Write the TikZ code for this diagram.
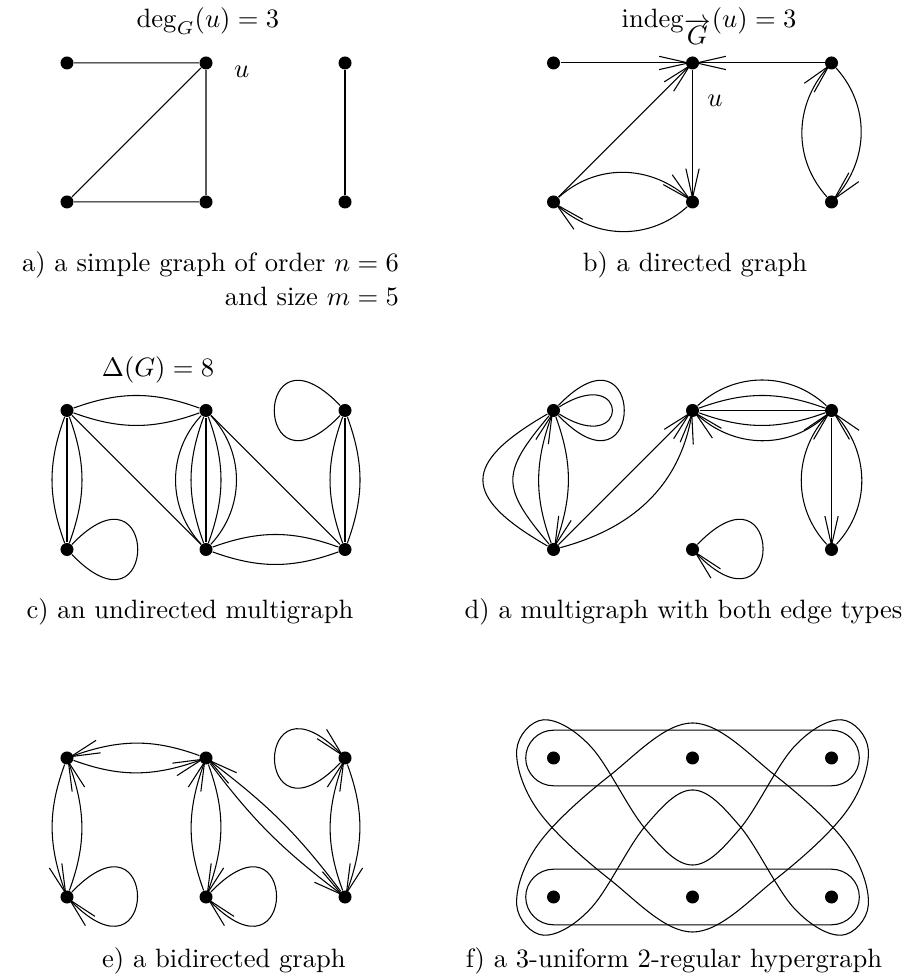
\documentclass[tikz,border=0pt]{standalone}
\usetikzlibrary{arrows.meta}
\tikzset{
  vtx/.style={circle,fill,inner sep=0pt,minimum size=4.9pt},
  head/.style={-{Straight Barb[length=11pt,width=5pt]},shorten >=-2pt},
}
\begin{document}
\begin{tikzpicture}[x=1.84cm,y=1.84cm]
  \useasboundingbox (-0.482,0.453) rectangle (6.065,-6.590);
  % a) simple graph
  \node[vtx] (a1) at (0,0) {};
  \node[vtx] (a2) at (1,0) {};
  \node[vtx] (a3) at (0,-1) {};
  \node[vtx] (a4) at (1,-1) {};
  \node[vtx] (a5) at (2,0) {};
  \node[vtx] (a6) at (2,-1) {};
  \draw (a1) -- (a2) -- (a4) -- (a3) -- (a2);
  \draw (a5) -- (a6);
  \node[anchor=base] (deg) at (1.014,0.252) {$\deg_G(u)=3$};
  \node[anchor=base] (ua) at (1.257,-0.108) {$u$};
  \node[anchor=base west] (capa) at (-0.391,-1.501) {a) a simple graph of order $n=6$};
  \node[anchor=base east] (capaa) at (2.455,-1.748) {and size $m=5$};
  % b) directed graph
  \node[vtx] (b1) at (3.5,0) {};
  \node[vtx] (b2) at (4.5,0) {};
  \node[vtx] (b3) at (5.5,0) {};
  \node[vtx] (b4) at (3.5,-1) {};
  \node[vtx] (b5) at (4.5,-1) {};
  \node[vtx] (b6) at (5.5,-1) {};
  \draw[head] (b1) -- (b2);
  \draw[head] (b4) -- (b2);
  \draw[head] (b3) -- (b2);
  \draw[head] (b2) -- (b5);
  \draw[head] (b4) to[bend left=42] (b5);
  \draw[head] (b5) to[bend left=42] (b4);
  \draw[head] (b6) to[bend left=42] (b3);
  \draw[head] (b3) to[bend left=42] (b6);
  \node[anchor=base] (indeg) at (4.619,0.252) {$\mathrm{indeg}_{\overrightarrow{G}}(u)=3$};
  \node[anchor=base] (ub) at (4.662,-0.314) {$u$};
  \node[anchor=base] (capb) at (4.518,-1.501) {b) a directed graph};
  % c) undirected multigraph
  \node[vtx] (c1) at (0,-2.5) {};
  \node[vtx] (c2) at (1,-2.5) {};
  \node[vtx] (c3) at (2,-2.5) {};
  \node[vtx] (c4) at (0,-3.5) {};
  \node[vtx] (c5) at (1,-3.5) {};
  \node[vtx] (c6) at (2,-3.5) {};
  \foreach \b in {-20,20} {
    \draw (c1) to[bend left=\b] (c2);
    \draw (c5) to[bend left=\b] (c6);
  }
  \foreach \b in {-20,0,20} {
    \draw (c1) to[bend left=\b] (c4);
    \draw (c3) to[bend left=\b] (c6);
  }
  \foreach \b in {-43,-20,0,20,43}
    \draw (c2) to[bend left=\b] (c5);
  \draw (c1) -- (c5);
  \draw (c2) -- (c6);
  \draw (c4) .. controls +(46:0.96) and +(-46:0.96) .. (c4);
  \draw (c3) .. controls +(134:0.96) and +(226:0.96) .. (c3);
  \node[anchor=base] (delta) at (0.655,-2.257) {$\Delta(G)=8$};
  \node[anchor=base] (capc) at (0.885,-3.993) {c) an undirected multigraph};
  % d) both edge types
  \node[vtx] (d1) at (3.5,-2.5) {};
  \node[vtx] (d2) at (4.5,-2.5) {};
  \node[vtx] (d3) at (5.5,-2.5) {};
  \node[vtx] (d4) at (3.5,-3.5) {};
  \node[vtx] (d5) at (4.5,-3.5) {};
  \node[vtx] (d6) at (5.5,-3.5) {};
  \draw (d1) .. controls +(46:0.96) and +(-46:0.96) .. (d1);
  \draw (d1) .. controls +(32:0.65) and +(-32:0.65) .. (d1);
  \draw (d1) to[out=210,in=150,looseness=1.93] (d4);
  \draw (d1) to[out=230,in=130,looseness=1.5] (d4);
  \draw[head] (d4) to[bend left=20] (d1);
  \draw[head] (d1) to[bend left=20] (d4);
  \draw[head] (d4) -- (d2);
  \draw[head] (d4) to[out=15,in=-100] (d2);
  \foreach \b in {43,20,0,-20}
    \draw (d2) to[bend left=\b] (d3);
  \draw[head] (d3) to[bend left=43] (d2);
  \draw[head] (d3) -- (d6);
  \draw[head] (d6) to[bend left=43] (d3);
  \draw[head] (d6) to[bend right=43] (d3);
  \draw[head] (d5) .. controls +(46:0.96) and +(-46:0.96) .. (d5);
  \node[anchor=base] (capd) at (4.435,-3.993) {d) a multigraph with both edge types};
  % e) bidirected graph
  \node[vtx] (e1) at (0,-5) {};
  \node[vtx] (e2) at (1,-5) {};
  \node[vtx] (e3) at (2,-5) {};
  \node[vtx] (e4) at (0,-6) {};
  \node[vtx] (e5) at (1,-6) {};
  \node[vtx] (e6) at (2,-6) {};
  \draw[head] (e2) to[bend right=20] (e1);
  \draw[head] (e1) to[bend right=20] (e2);
  \draw[head] (e1) to[bend right=20] (e4);
  \draw[head] (e4) to[bend right=20] (e1);
  \draw[head] (e5) to[bend left=20] (e2);
  \draw[head] (e2) to[bend left=20] (e5);
  \draw[head] (e6) to[bend right=8] (e2);
  \draw[head] (e2) to[bend right=8] (e6);
  \draw[head] (e6) to[bend left=20] (e3);
  \draw[head] (e3) to[bend left=20] (e6);
  \draw[head] (e4) .. controls +(46:0.96) and +(-46:0.96) .. (e4);
  \draw[head] (e5) .. controls +(46:0.96) and +(-46:0.96) .. (e5);
  \draw[head] (e3) .. controls +(226:0.96) and +(134:0.96) .. (e3);
  \node[anchor=base] (cape) at (1.129,-6.504) {e) a bidirected graph};
  % f) hypergraph
  \node[vtx] (f1) at (3.5,-5) {};
  \node[vtx] (f2) at (4.5,-5) {};
  \node[vtx] (f3) at (5.5,-5) {};
  \node[vtx] (f4) at (3.5,-6) {};
  \node[vtx] (f5) at (4.5,-6) {};
  \node[vtx] (f6) at (5.5,-6) {};
  \draw[rounded corners=3.68mm] (3.3,-4.8) rectangle (5.7,-5.2);
  \draw[rounded corners=3.68mm] (3.3,-5.8) rectangle (5.7,-6.2);
  \begin{scope}[shift={(3.5,-5)}]
    \draw plot[smooth cycle,tension=0.6] coordinates {(-0.07,0.275) (0.27,0.08) (0.66,-0.51)
      (1,-0.77) (1.34,-0.51) (1.73,0.08) (2.07,0.275) (2.265,0.055) (2.11,-0.38)
      (1.6,-0.87) (1,-1.252) (0.4,-0.87) (-0.11,-0.38) (-0.265,0.055)};
    \draw plot[smooth cycle,tension=0.6] coordinates {(-0.07,-1.275) (0.27,-1.08) (0.66,-0.49)
      (1,-0.23) (1.34,-0.49) (1.73,-1.08) (2.07,-1.275) (2.265,-1.055) (2.11,-0.62)
      (1.6,-0.13) (1,0.252) (0.4,-0.13) (-0.11,-0.62) (-0.265,-1.055)};
  \end{scope}
  \node[anchor=base] (capf) at (4.367,-6.504) {f) a 3-uniform 2-regular hypergraph};
\end{tikzpicture}
\end{document}
